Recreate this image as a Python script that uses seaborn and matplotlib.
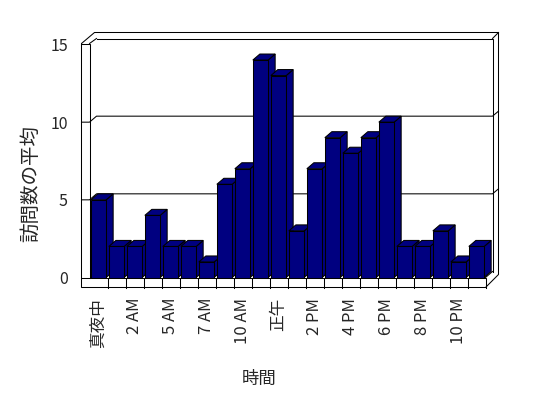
import numpy as np
import pandas as pd
import matplotlib.pyplot as plt
from matplotlib.patches import Polygon
import seaborn as sns

# hours that have data (4 AM and 8 AM missing)
hours = ['真夜中', '1 AM', '2 AM', '3 AM', '5 AM', '6 AM', '7 AM', '9 AM', '10 AM', '11 AM',
         '正午', '1 PM', '2 PM', '3 PM', '4 PM', '5 PM', '6 PM', '7 PM', '8 PM', '9 PM',
         '10 PM', '11 PM']
visits = [5, 2, 2, 4, 2, 2, 1, 6, 7, 14, 13, 3, 7, 9, 8, 9, 10, 2, 2, 3, 1, 2]
y_ticks = [0, 5, 10, 15]

df = pd.DataFrame({'hour': hours, 'visits': visits})

sns.set_style('white')
plt.rcParams['font.family'] = ['Noto Sans CJK JP', 'DejaVu Sans']

W, H = 548, 398
LW = 0.75  # ~1 px
fig = plt.figure(figsize=(W / 100, H / 100), dpi=100)
# front plane of the 3d box, in pixels (origin top-left)
L, R, T, B = 89.5, 485.5, 44.5, 277.5
ax = fig.add_axes([L / W, (H - B) / H, (R - L) / W, (B - T) / H])
ax.set_facecolor('none')

sns.barplot(data=df, x='hour', y='visits', color='#000080', saturation=1,
            width=0.85, edgecolor='black', linewidth=LW, ax=ax)
bars = list(ax.patches)
n = len(hours)
ax.set_xlim(-0.5, n - 0.5)
ax.set_ylim(0, 15)
for s in ax.spines.values():
    s.set_visible(False)

DX, DY = 7, 6  # depth offset in pixels
inv = ax.transData.inverted()


def px(x, y):
    # pixel coords (origin top-left) -> data coords
    return inv.transform((x, H - y))


def off(x, y):
    d = ax.transData.transform((x, y))
    return inv.transform((d[0] + DX, d[1] + DY))


def line(pts, z=1):
    p = np.array([px(*q) for q in pts])
    ax.plot(p[:, 0], p[:, 1], color='black', lw=LW, zorder=z, clip_on=False,
            solid_joinstyle='miter', solid_capstyle='projecting')


def poly(pts, fc, z):
    ax.add_patch(Polygon(np.array([px(*q) for q in pts]), closed=True, fc=fc,
                         ec='black', lw=LW, zorder=z, clip_on=False))


bx0, bx1, byt, byb = L + DX, R + DX, T - DY, B - DY
OL, OR, OT, OB = 81.5, 498.5, 32.5, 287.5

# walls and floor
poly([(OL, 43.5), (94.5, OT), (OR, OT), (OR, 274.5), (R, OB), (OL, OB)], 'white', 0.5)
line([(bx0, byt), (bx1, byt), (bx1, byb)])
line([(L, 43.5), (bx0, byt)])
line([(OL, 43.5), (L, 43.5), (L, B)])
line([(bx1, byt), (OR, OT)])
line([(R, B), (bx1, byb)])
line([(OL, B), (R, B), (R, OB)])
for k in range(n - 1):
    xk = L + (k + 1) * (R - L) / n
    line([(xk, B), (xk, OB)], z=2)

# gridlines on back and left wall
for v in y_ticks[1:-1]:
    yf = H - ax.transData.transform((0, v))[1]
    line([(OL, yf), (L, yf), (bx0, yf - DY), (bx1, yf - DY), (OR, yf - DY - 5)])

# 3d bar faces
for i, p in enumerate(bars):
    x0, w, h = p.get_x(), p.get_width(), p.get_height()
    x1 = x0 + w
    z = 10 + 3 * i
    side = [(x1, 0), (x1, h), off(x1, h), off(x1, 0)]
    top = [(x0, h), (x1, h), off(x1, h), off(x0, h)]
    ax.add_patch(Polygon(side, closed=True, fc='#000080', ec='black', lw=LW, zorder=z, clip_on=False))
    ax.add_patch(Polygon(top, closed=True, fc='#000080', ec='black', lw=LW, zorder=z + 1, clip_on=False))
    p.set_zorder(z + 2)

ax.set_yticks(y_ticks)
ax.set_yticklabels([str(v) for v in y_ticks], fontsize=11.5)
ax.set_xticks(range(n))
ax.set_xticklabels([h if i % 2 == 0 else '' for i, h in enumerate(hours)],
                   rotation=90, fontsize=12, va='top')
ax.tick_params(axis='y', length=0, pad=15.5)
ax.tick_params(axis='x', length=0, pad=14.5)

ax.set_xlabel('時間', fontsize=12.5)
ax.set_ylabel('訪問数の平均', fontsize=14)
ax.xaxis.set_label_coords(0.428, -0.396)
ax.yaxis.set_label_coords(-0.122, 0.402)

fig.savefig('out.png', dpi=100)
